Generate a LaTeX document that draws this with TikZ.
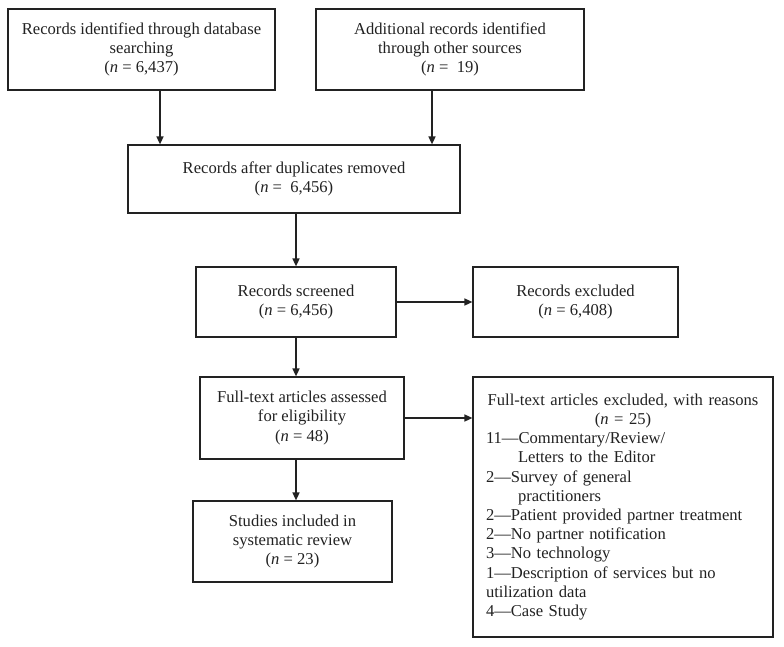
\documentclass[tikz,border=0pt]{standalone}
\usepackage{fontspec}
\setmainfont{Liberation Serif}
\usetikzlibrary{arrows.meta}
\definecolor{ink}{HTML}{222222}
\tikzset{
  box/.style={draw=ink, line width=1.2pt, text=ink, align=center, inner sep=0pt,
    font=\fontsize{16.6}{19.2}\selectfont},
  arr/.style={draw=ink, line width=1.5pt, -{Triangle[length=8pt,width=7pt]}}
}
\begin{document}
\begin{tikzpicture}[x=1pt,y=-1pt]
\useasboundingbox[fill=white] (0,0) rectangle (784,647);
\node[box, minimum width=267pt, minimum height=81pt] (b1) at (141.5,49.5)
  {Records identified through database\\searching\\(\textit{n} = 6,437)};
\node[box, minimum width=268pt, minimum height=81pt] (b2) at (450,49.5)
  {Additional records identified\\through other sources\\(\textit{n} =\ \ 19)};
\node[box, minimum width=332pt, minimum height=68pt] (b3) at (294,179)
  {Records after duplicates removed\\(\textit{n} =\ \ 6,456)};
\node[box, minimum width=200pt, minimum height=70pt] (b4) at (296,302)
  {Records screened\\(\textit{n} = 6,456)};
\node[box, minimum width=205pt, minimum height=70pt] (b5) at (575.5,302)
  {Records excluded\\(\textit{n} = 6,408)};
\node[box, minimum width=204pt, minimum height=82pt] (b6) at (302,418)
  {Full-text articles assessed\\for eligibility\\(\textit{n} = 48)};
\node[box, minimum width=199pt, minimum height=81pt] (b7) at (292.5,541.5)
  {Studies included in\\systematic review\\(\textit{n} = 23)};
\node[box, align=left, text width=274pt, inner xsep=13pt, minimum height=260pt] (b8) at (623,507)
  {\makebox[\linewidth]{Full-text articles excluded, with reasons}\\
   \makebox[\linewidth]{(\textit{n} = 25)}\\
   11—Commentary/Review/\\
   \hspace*{32pt}Letters to the Editor\\
   2—Survey of general\\
   \hspace*{32pt}practitioners\\
   2—Patient provided partner treatment\\
   2—No partner notification\\
   3—No technology\\
   1—Description of services but no\\
   utilization data\\
   4—Case Study};
\draw[arr] ([xshift=18.5pt]b1.south) -- ([xshift=18.5pt]b1.south |- b3.north);
\draw[arr] ([xshift=-18pt]b2.south) -- ([xshift=-18pt]b2.south |- b3.north);
\draw[arr] (b4.north |- b3.south) -- (b4.north);
\draw[arr] (b4.east) -- (b4.east -| b5.west);
\draw[arr] (b4.south) -- (b4.south |- b6.north);
\draw[arr] (b6.east) -- (b6.east -| b8.west);
\draw[arr] (b4.south |- b6.south) -- (b4.south |- b7.north);
\end{tikzpicture}
\end{document}
